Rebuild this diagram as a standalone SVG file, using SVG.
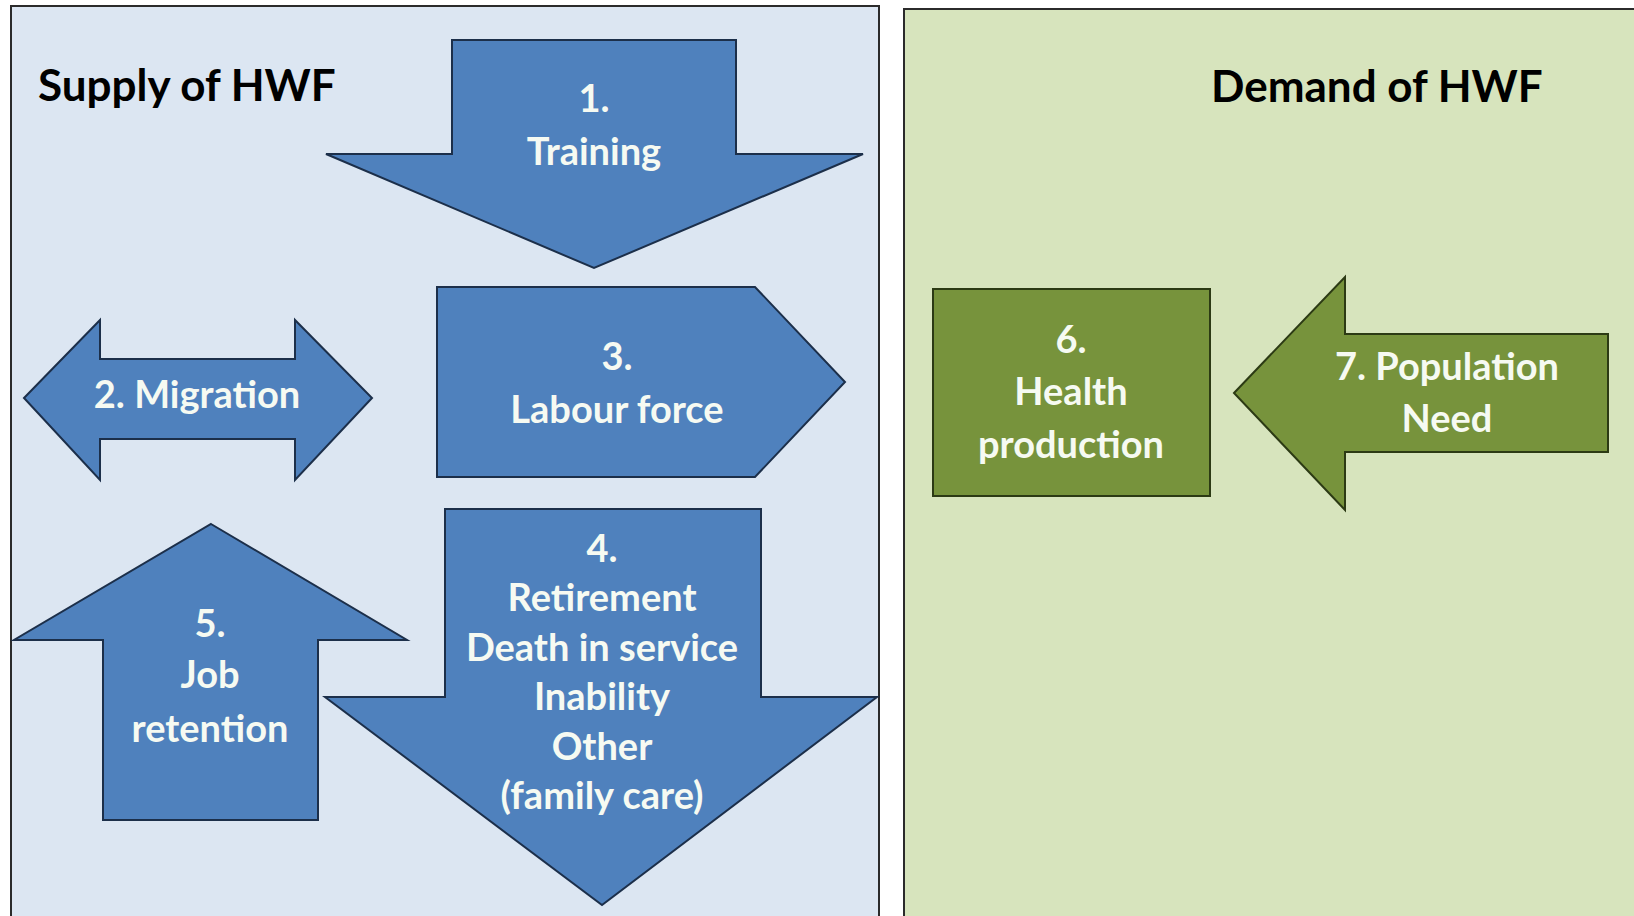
<svg xmlns="http://www.w3.org/2000/svg" width="1634" height="916" viewBox="0 0 1634 916">
  <style>
    .panel-supply { fill: #dce6f2; stroke: #2b2b2b; stroke-width: 2; }
    .panel-demand { fill: #d7e4bd; stroke: #2b2b2b; stroke-width: 2; }
    .blue { fill: #4f81bd; stroke: #1c2f4a; stroke-width: 2; stroke-linejoin: miter; }
    .green { fill: #77933c; stroke: #2c3a14; stroke-width: 2; }
    .title { font-family: Lato, "Liberation Sans", sans-serif; font-weight: bold; font-size: 44px; fill: #000000; }
    .lbl { font-family: Lato, "Liberation Sans", sans-serif; font-weight: bold; font-size: 38px; fill: #f6faf2; text-anchor: middle; }
  </style>
  <rect width="1634" height="916" fill="#ffffff"/>
  <g id="panel-supply">
    <rect class="panel-supply" x="11" y="6" width="868" height="930"/>
    <text class="title" x="38" y="101">Supply of HWF</text>
  </g>
  <g id="panel-demand">
    <rect class="panel-demand" x="904" y="9" width="760" height="930"/>
    <text class="title" x="1211" y="102">Demand of HWF</text>
  </g>
  <g id="node-1-training">
    <polygon class="blue" points="452,40 736,40 736,154 863,154 594,268 326,154 452,154"/>
    <text class="lbl" x="594" y="112">1.</text>
    <text class="lbl" x="594" y="165">Training</text>
  </g>
  <g id="node-2-migration">
    <polygon class="blue" points="24,398 100,320 100,359 295,359 295,320 372,398 295,480 295,439 100,439 100,480"/>
    <text class="lbl" x="197" y="408">2. Migration</text>
  </g>
  <g id="node-3-labour">
    <polygon class="blue" points="437,287 755,287 845,382 755,477 437,477"/>
    <text class="lbl" x="617" y="370">3.</text>
    <text class="lbl" x="617" y="423">Labour force</text>
  </g>
  <g id="node-4-exit">
    <polygon class="blue" points="445,509 761,509 761,697 877,697 602,905 325,697 445,697"/>
    <text class="lbl" x="602" y="562">4.</text>
    <text class="lbl" x="602" y="611">Retirement</text>
    <text class="lbl" x="602" y="661">Death in service</text>
    <text class="lbl" x="602" y="710">Inability</text>
    <text class="lbl" x="602" y="760">Other</text>
    <text class="lbl" x="602" y="809">(family care)</text>
  </g>
  <g id="node-5-retention">
    <polygon class="blue" points="211,524 407,640 318,640 318,820 103,820 103,640 14,640"/>
    <text class="lbl" x="210" y="637">5.</text>
    <text class="lbl" x="210" y="688">Job</text>
    <text class="lbl" x="210" y="742">retention</text>
  </g>
  <g id="node-6-health">
    <rect class="green" x="933" y="289" width="277" height="207"/>
    <text class="lbl" x="1071" y="353">6.</text>
    <text class="lbl" x="1071" y="405">Health</text>
    <text class="lbl" x="1071" y="458">production</text>
  </g>
  <g id="node-7-population">
    <polygon class="green" points="1234,393 1345,277 1345,334 1608,334 1608,452 1345,452 1345,510"/>
    <text class="lbl" x="1447" y="380">7. Population</text>
    <text class="lbl" x="1447" y="432">Need</text>
  </g>
  <g id="connectors"/>
</svg>
